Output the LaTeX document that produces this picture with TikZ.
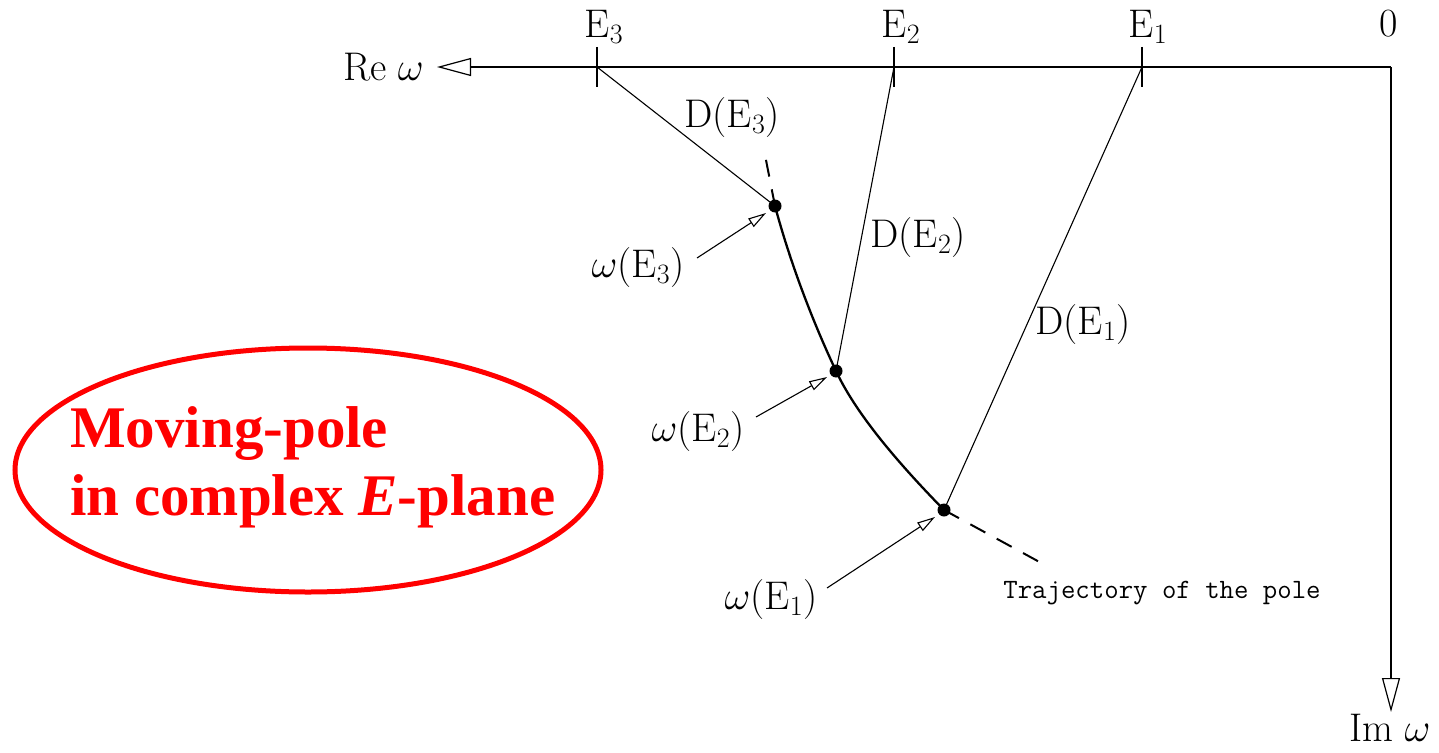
\RequirePackage{fix-cm}
\documentclass[tikz,border=0pt]{standalone}
\usepackage{fontspec}
\newfontfamily\redfont{Liberation Serif}
\usetikzlibrary{arrows.meta}
\definecolor{redc}{RGB}{255,0,0}
\tikzset{
  axis/.style={line width=1.4pt, -{Triangle[open,length=34pt,width=18pt,line width=1.2pt]}},
  thin line/.style={line width=1.1pt},
  traj/.style={line width=2.3pt},
  trajdash/.style={line width=2pt, dash pattern=on 17pt off 13pt},
  pointer/.style={line width=1.1pt, -{Triangle[open,length=18pt,width=10pt,line width=1.1pt]}},
  dot/.style={circle, fill=black, inner sep=0pt, minimum size=13pt},
  lbl/.style={inner sep=0pt, font=\fontsize{40}{44}\selectfont},
  tick/.style={line width=1.1pt},
  traj label/.style={inner sep=0pt, font=\ttfamily\fontsize{28}{32}\selectfont},
  red label/.style={inner sep=0pt, anchor=base west, text=redc, font=\redfont\bfseries\fontsize{59}{62}\selectfont}
}
\begin{document}
\begin{tikzpicture}[x=1pt,y=-1pt]
\useasboundingbox (0,0) rectangle (1439,752);
% axes
\coordinate (O) at (1391,67);
\coordinate (retip) at (437,67);
\coordinate (imtip) at (1391,712);
\draw[axis] (O) -- (retip);
\draw[axis] (O) -- (imtip);
\node[lbl, anchor=east] (re) at (424,67) {Re\;$\omega$};
\node[lbl] (im) at (1390,728) {Im\;$\omega$};
% ticks
\coordinate (e3) at (597,67);
\coordinate (e2) at (894,67);
\coordinate (e1) at (1142,67);
\foreach \t in {e3,e2,e1} \draw[tick] (\t) ++(0,-20) -- ++(0,40);
\node[lbl] (le3) at (604,27) {E$_3$};
\node[lbl] (le2) at (901,27) {E$_2$};
\node[lbl] (le1) at (1148,27) {E$_1$};
\node[lbl] (l0) at (1389,24) {0};
% pole points
\node[dot] (p3) at (775,206) {};
\node[dot] (p2) at (836,371) {};
\node[dot] (p1) at (944,510) {};
% D lines
\draw[thin line] (e3) -- (p3.center);
\draw[thin line] (e2) -- (p2.center);
\draw[thin line] (e1) -- (p1.center);
\node[lbl] (d3) at (732,118) {D(E$_3$)};
\node[lbl] (d2) at (918,238) {D(E$_2$)};
\node[lbl] (d1) at (1083,325) {D(E$_1$)};
% trajectory
\draw[traj] (p3.center) .. controls (790,262) and (812,320) .. (p2.center)
            .. controls (858,418) and (905,470) .. (p1.center);
\coordinate (tstart) at (765,155);
\coordinate (tend) at (1045,565);
\draw[trajdash] (p3.center) -- (tstart);
\draw[trajdash] (p1.center) -- (tend);
\node[traj label] (tl) at (1162,593) {Trajectory of the pole};
% omega labels and pointers
\node[lbl] (w3) at (638,268) {$\omega$(E$_3$)};
\node[lbl] (w2) at (698,432) {$\omega$(E$_2$)};
\node[lbl] (w1) at (771,600) {$\omega$(E$_1$)};
\coordinate (a3s) at (697,258);
\coordinate (a3e) at (766,213);
\coordinate (a2s) at (756,417);
\coordinate (a2e) at (827,377);
\coordinate (a1s) at (827,588);
\coordinate (a1e) at (935,517);
\draw[pointer] (a3s) -- (a3e);
\draw[pointer] (a2s) -- (a2e);
\draw[pointer] (a1s) -- (a1e);
% red ellipse
\draw[redc, line width=5pt] (308,470) ellipse [x radius=293, y radius=122];
\node[red label] (t1) at (70,447) {Moving-pole};
\node[red label] (t2) at (70,515) {in complex \textit{E}-plane};
\end{tikzpicture}
\end{document}
